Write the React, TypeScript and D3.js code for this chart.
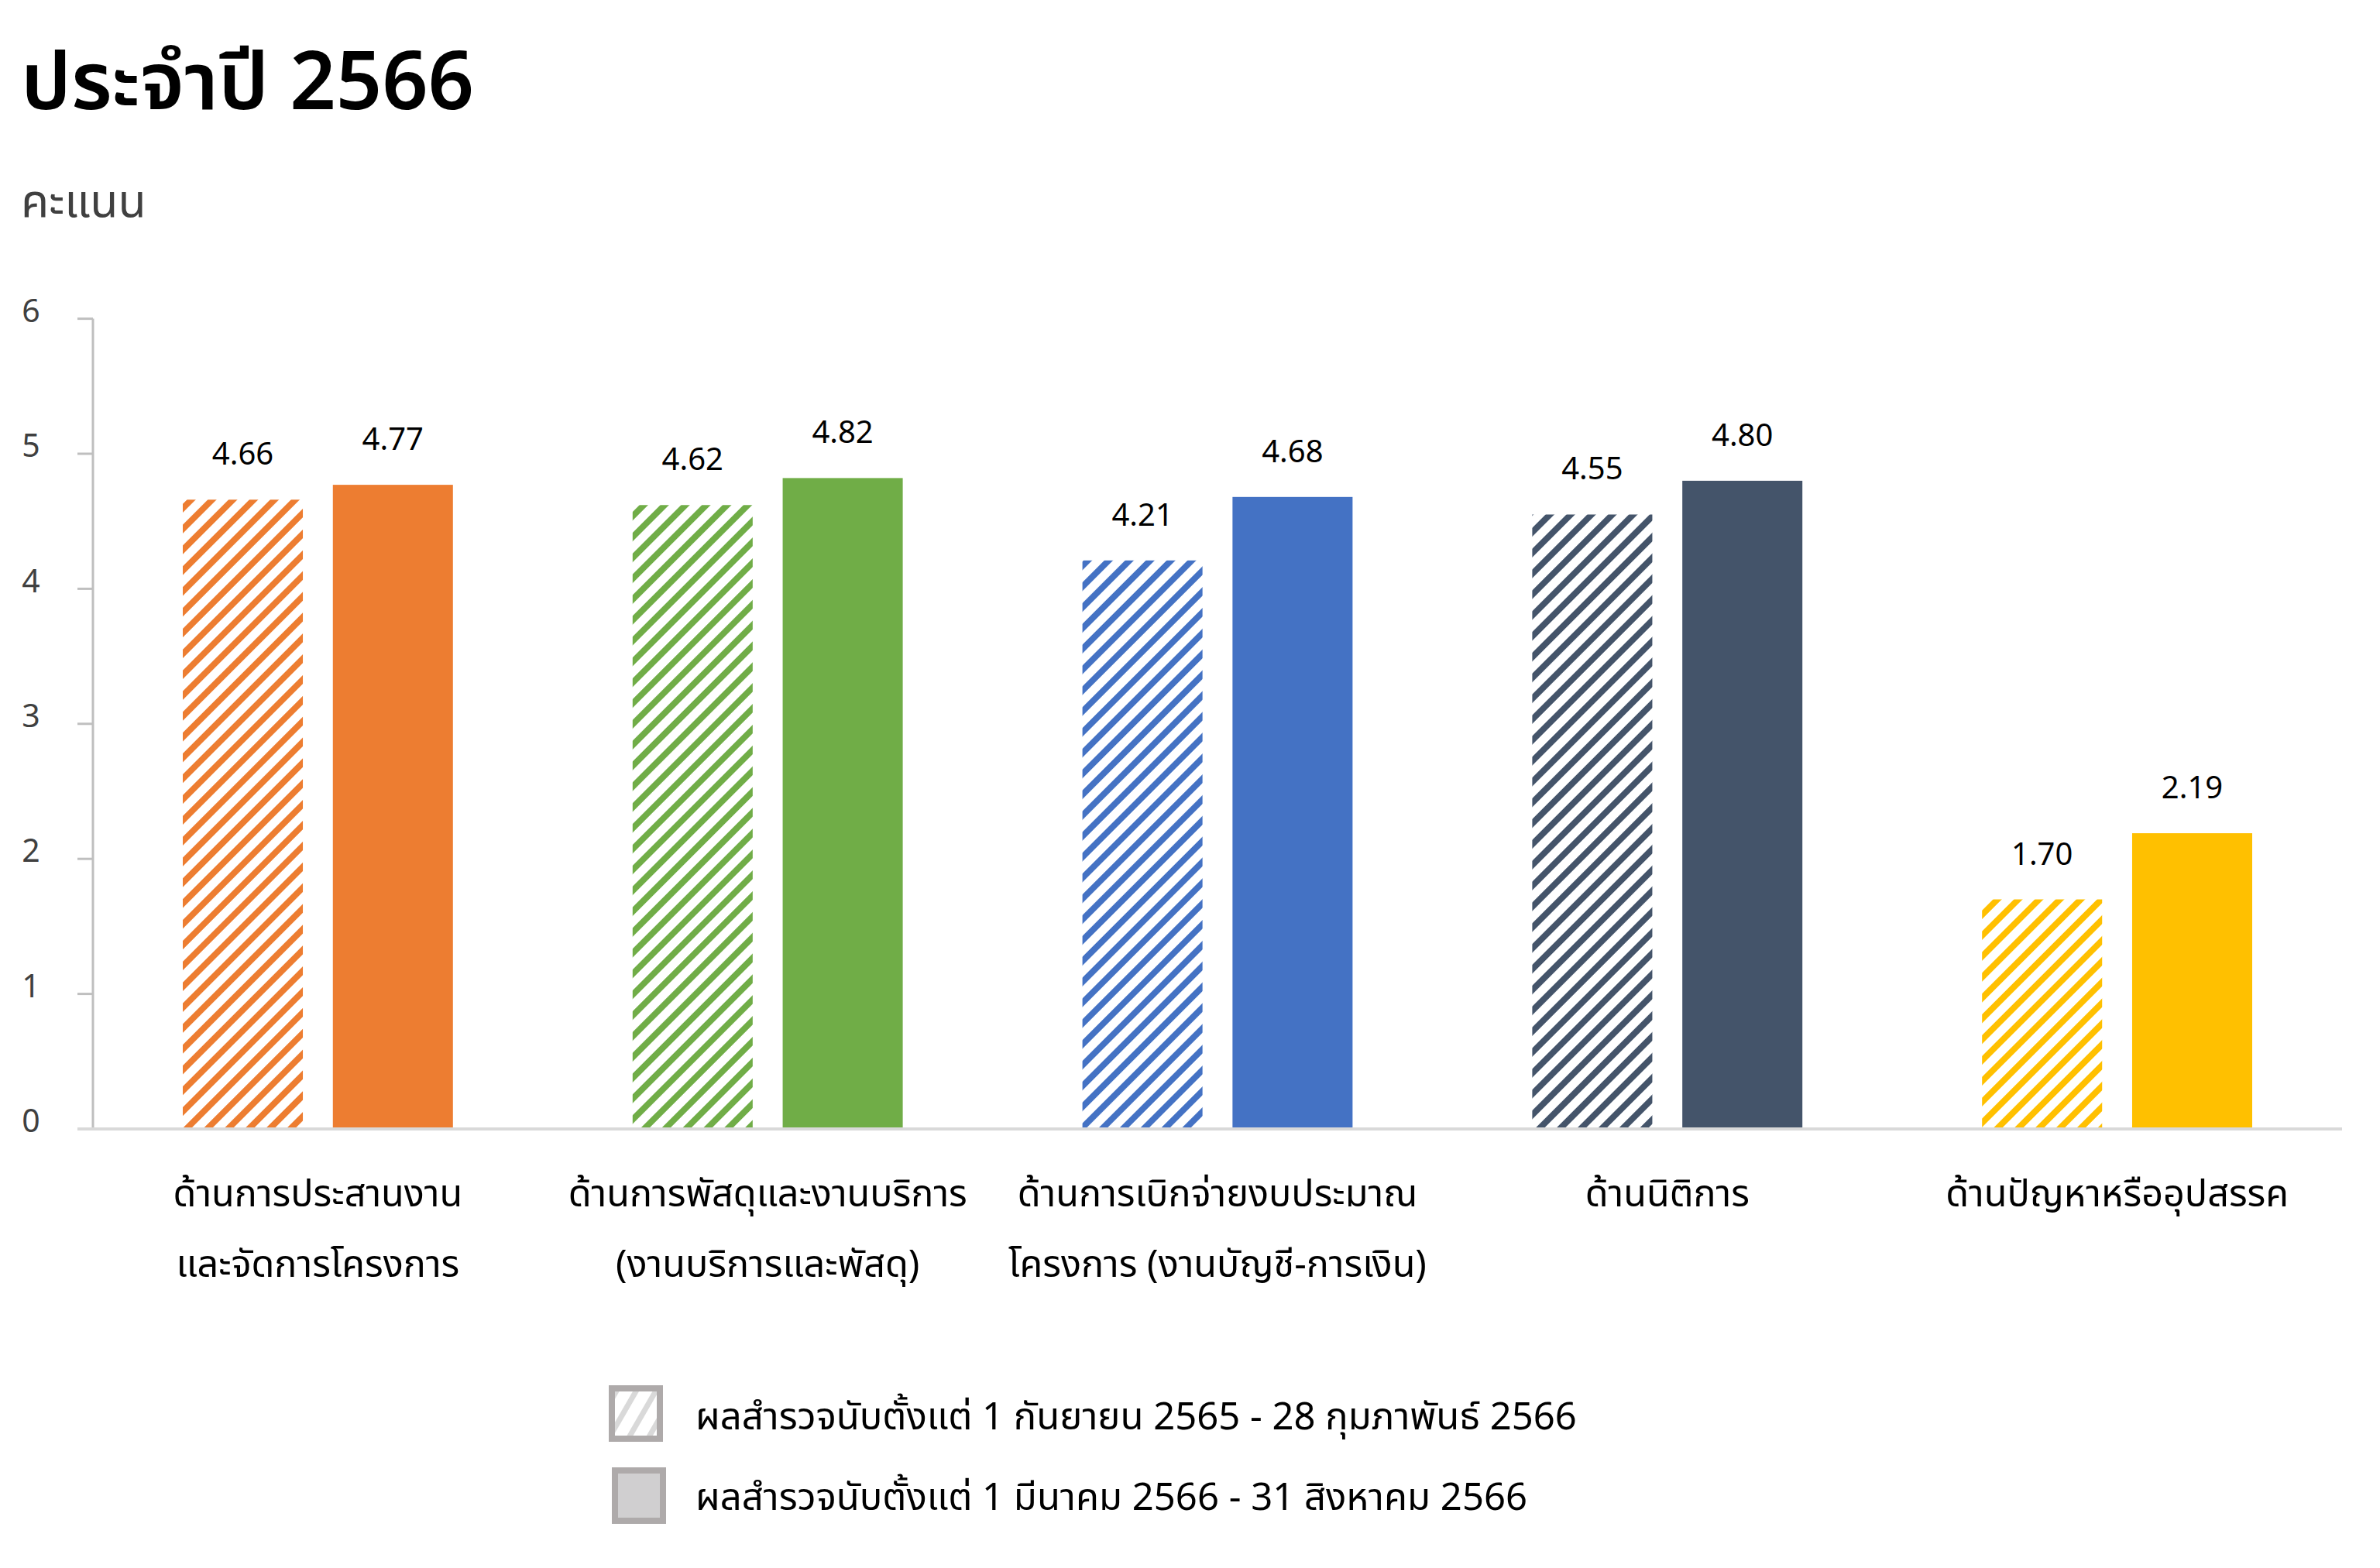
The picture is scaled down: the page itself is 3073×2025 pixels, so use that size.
import React from "react";
import * as d3 from "d3";

const categories: string[][] = [
  ["ด้านการประสานงาน", "และจัดการโครงการ"],
  ["ด้านการพัสดุและงานบริการ", "(งานบริการและพัสดุ)"],
  ["ด้านการเบิกจ่ายงบประมาณ", "โครงการ (งานบัญชี-การเงิน)"],
  ["ด้านนิติการ"],
  ["ด้านปัญหาหรืออุปสรรค"],
];
const period1Values = [4.66, 4.62, 4.21, 4.55, 1.7];
const period2Values = [4.77, 4.82, 4.68, 4.8, 2.19];
const colors = ["#ED7D31", "#70AD47", "#4472C4", "#44546A", "#FFC000"];
const yTicks = [0, 1, 2, 3, 4, 5, 6];
const legendLabels = [
  "ผลสำรวจนับตั้งแต่ 1 กันยายน 2565 - 28 กุมภาพันธ์ 2566",
  "ผลสำรวจนับตั้งแต่ 1 มีนาคม 2566 - 31 สิงหาคม 2566",
];
const title = "ประจำปี 2566";
const yTitle = "คะแนน";

const W = 3073;
const H = 2025;
const left = 120;
const right = 3024;
const top = 411.6;
const bottom = 1458;
const FONT = "'Noto Sans Thai', 'Noto Sans', 'Open Sans', sans-serif";

export default function App() {
  const x = d3
    .scaleBand<number>()
    .domain(d3.range(categories.length))
    .range([left, right])
    .paddingInner(0)
    .paddingOuter(0);
  const y = d3.scaleLinear().domain([0, 6]).range([bottom, top]);
  const sub = d3
    .scaleBand<number>()
    .domain([0, 1])
    .range([116, x.bandwidth() - 116])
    .paddingInner(0.2);
  const bw = sub.bandwidth();

  return (
    <svg
      width={W}
      height={H}
      style={{ position: "absolute", left: 0, top: 0, background: "#fff" }}
    >
      <defs>
        {colors.map((c, i) => (
          <pattern
            key={i}
            id={`hatch${i}`}
            patternUnits="userSpaceOnUse"
            width={19}
            height={19}
            patternTransform="rotate(45)"
          >
            <rect x={0} y={0} width={19} height={19} fill="#fff" />
            <rect x={0} y={0} width={8} height={19} fill={c} />
          </pattern>
        ))}
        <pattern
          id="hatchLegend"
          patternUnits="userSpaceOnUse"
          width={22}
          height={22}
          patternTransform="rotate(30)"
        >
          <rect x={0} y={0} width={22} height={22} fill="#fff" />
          <rect x={0} y={0} width={7} height={22} fill="#d9d9d9" />
        </pattern>
      </defs>

      <text x={27} y={141} fontFamily={FONT} fontWeight={600} fontSize={104} fill="#000">
        {title}
      </text>
      <text x={27} y={280} fontFamily={FONT} fontSize={59} fill="#404040">
        {yTitle}
      </text>

      {/* y axis */}
      <line x1={left} x2={left} y1={y(6)} y2={y(0)} stroke="#bfbfbf" strokeWidth={3} />
      {yTicks.map((t) => (
        <g key={t}>
          <line x1={100} x2={left} y1={y(t)} y2={y(t)} stroke="#bfbfbf" strokeWidth={3} />
          <text
            x={40}
            y={y(t)}
            dy="0.1em"
            textAnchor="middle"
            fontFamily={FONT}
            fontSize={41}
            fill="#404040"
          >
            {t}
          </text>
        </g>
      ))}

      {/* bars */}
      {categories.map((cat, i) => {
        const x0 = x(i)!;
        const vals = [period1Values[i], period2Values[i]];
        return (
          <g key={i}>
            {vals.map((v, j) => {
              const bx = x0 + sub(j)!;
              return (
                <g key={j}>
                  <rect
                    x={bx}
                    y={y(v)}
                    width={bw}
                    height={y(0) - y(v)}
                    fill={j === 0 ? `url(#hatch${i})` : colors[i]}
                  />
                  <text
                    x={bx + bw / 2}
                    y={y(v) - 45}
                    textAnchor="middle"
                    fontFamily={FONT}
                    fontSize={40}
                    fill="#000"
                  >
                    {v.toFixed(2)}
                  </text>
                </g>
              );
            })}
            {cat.map((line, k) => (
              <text
                key={k}
                x={x0 + x.bandwidth() / 2}
                y={1558 + k * 91}
                textAnchor="middle"
                fontFamily={FONT}
                fontSize={48.5}
                fill="#000"
              >
                {line}
              </text>
            ))}
          </g>
        );
      })}

      {/* baseline */}
      <line x1={100} x2={right} y1={y(0)} y2={y(0)} stroke="#d9d9d9" strokeWidth={4} />

      {/* legend */}
      <rect x={790} y={1793} width={62} height={65} fill="url(#hatchLegend)" stroke="#aeaaaa" strokeWidth={8} />
      <rect x={794} y={1899} width={62} height={65} fill="#d0cfd0" stroke="#aeaaaa" strokeWidth={8} />
      {legendLabels.map((l, i) => (
        <text
          key={i}
          x={898}
          y={1829 + i * 104}
          dy="0.35em"
          fontFamily={FONT}
          fontSize={49}
          fill="#000"
        >
          {l}
        </text>
      ))}
    </svg>
  );
}
